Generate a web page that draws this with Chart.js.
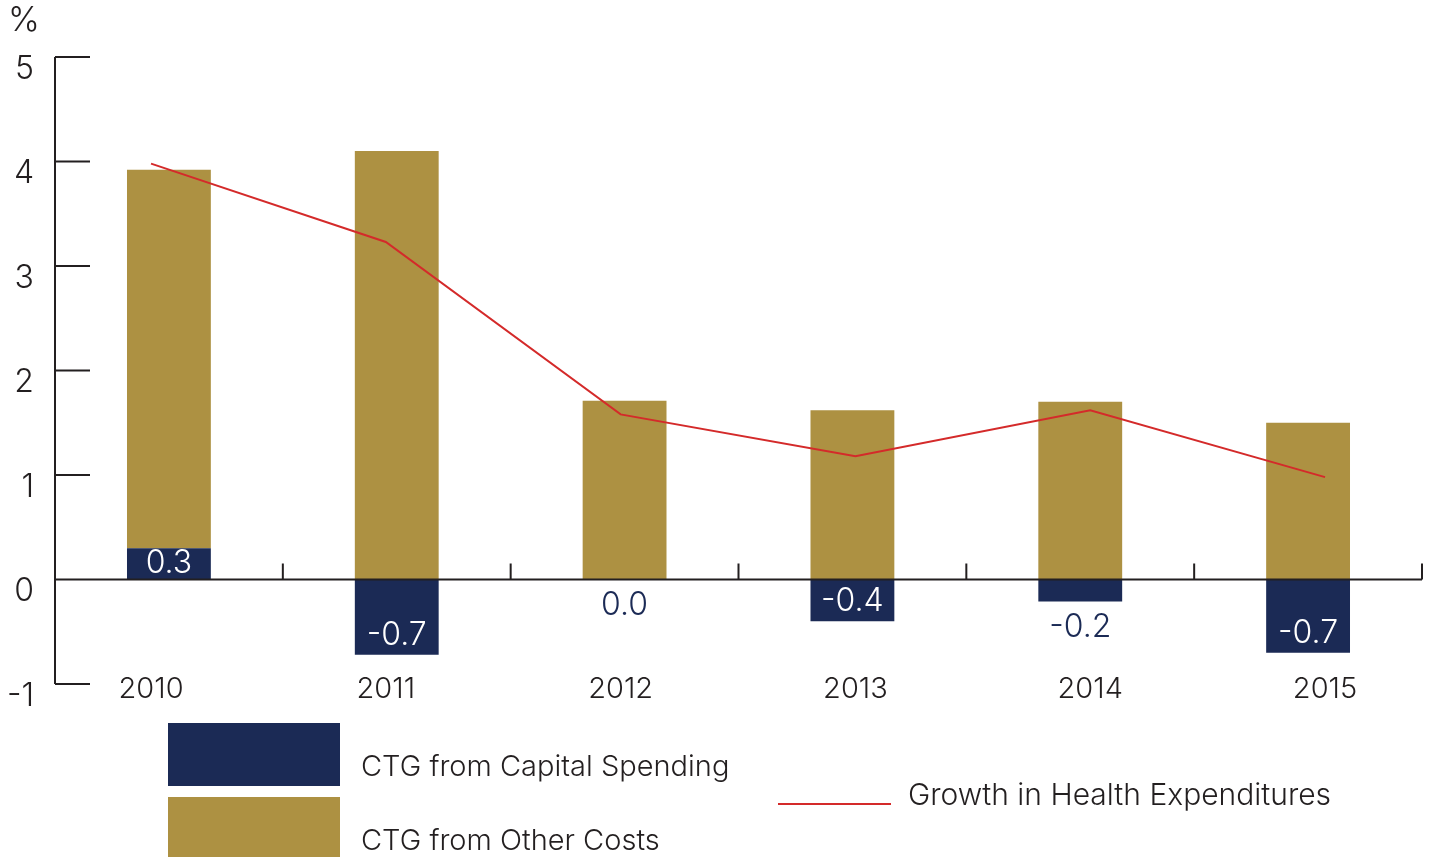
<!DOCTYPE html>
<html>
<head>
<meta charset="utf-8">
<script src="https://cdn.jsdelivr.net/npm/chart.js@4"></script>
<style>
  body { margin: 0; background: #fff; }
  canvas { display: block; }
</style>
</head>
<body>
<canvas id="myChart" width="1435" height="857"></canvas>
<script>
const years = ["2010", "2011", "2012", "2013", "2014", "2015"];
const capitalSpending = [0.3, -0.72, 0.0, -0.4, -0.21, -0.7];
const otherCosts = [3.62, 4.1, 1.71, 1.62, 1.7, 1.5];
const healthGrowth = [3.98, 3.23, 1.58, 1.18, 1.62, 0.98];
const yTicks = [-1, 0, 1, 2, 3, 4, 5];

const FONT = "Inter";
const INK = "#231f20";
const NAVY = "#1b2a55";
const GOLD = "#ad9142";
const RED = "#d42a2a";

// axis lines with inward tick marks, like the original
const axesPlugin = {
  id: "axesPlugin",
  afterDatasetsDraw(chart) {
    const { ctx, chartArea, scales } = chart;
    const x = scales.x, y = scales.y;
    ctx.save();
    ctx.strokeStyle = INK;
    ctx.lineWidth = 2;
    ctx.beginPath();
    ctx.moveTo(chartArea.left, y.getPixelForValue(5));
    ctx.lineTo(chartArea.left, y.getPixelForValue(-1));
    yTicks.forEach((t) => {
      if (t === 0) return;
      const py = y.getPixelForValue(t);
      ctx.moveTo(chartArea.left, py);
      ctx.lineTo(chartArea.left + 35, py);
    });
    const zero = y.getPixelForValue(0);
    ctx.moveTo(chartArea.left, zero);
    ctx.lineTo(chartArea.right, zero);
    years.forEach((_, i) => {
      const px = x.getPixelForValue(i + 0.5);
      ctx.moveTo(px, zero);
      ctx.lineTo(px, zero - 16);
    });
    ctx.stroke();
    ctx.restore();
  },
};

// value labels for the capital spending bars
const valuePlugin = {
  id: "valuePlugin",
  afterDatasetsDraw(chart) {
    const { ctx } = chart;
    const meta = chart.getDatasetMeta(0);
    ctx.save();
    ctx.font = "300 32px " + FONT;
    ctx.textAlign = "center";
    meta.data.forEach((bar, i) => {
      const v = capitalSpending[i];
      const txt = v.toFixed(1);
      if (v > 0.25) {
        ctx.fillStyle = "#fff";
        ctx.textBaseline = "middle";
        ctx.fillText(txt, bar.x, (bar.y + bar.base) / 2);
      } else if (v < -0.3) {
        ctx.fillStyle = "#fff";
        ctx.textBaseline = "alphabetic";
        ctx.fillText(txt, bar.x, bar.y - 10);
      } else {
        ctx.fillStyle = NAVY;
        ctx.textBaseline = "top";
        ctx.fillText(txt, bar.x, Math.max(bar.y, bar.base) + 10);
      }
    });
    ctx.restore();
  },
};

// unit label and custom legend
const legendPlugin = {
  id: "legendPlugin",
  afterDraw(chart) {
    const { ctx } = chart;
    const ds = chart.data.datasets;
    ctx.save();
    ctx.fillStyle = INK;
    ctx.font = "300 34px " + FONT;
    ctx.textBaseline = "middle";
    ctx.textAlign = "left";
    ctx.fillText("%", 8, 21);

    ctx.font = "300 29px " + FONT;
    ctx.fillStyle = ds[0].backgroundColor;
    ctx.fillRect(168, 723, 172, 63);
    ctx.fillStyle = ds[1].backgroundColor;
    ctx.fillRect(168, 797, 172, 70);
    ctx.fillStyle = INK;
    ctx.fillText(ds[0].label, 361, 767);
    ctx.fillText(ds[1].label, 361, 841);

    ctx.strokeStyle = ds[2].borderColor;
    ctx.lineWidth = 2;
    ctx.beginPath();
    ctx.moveTo(778, 804);
    ctx.lineTo(891, 804);
    ctx.stroke();
    ctx.font = "300 30px " + FONT;
    ctx.fillText(ds[2].label, 908, 796);
    ctx.restore();
  },
};

const config = {
  type: "bar",
  data: {
    labels: years,
    datasets: [
      {
        label: "CTG from Capital Spending",
        data: capitalSpending,
        backgroundColor: NAVY,
        stack: "ctg",
        grouped: false,
        order: 1,
      },
      {
        label: "CTG from Other Costs",
        data: otherCosts,
        backgroundColor: GOLD,
        stack: "ctg",
        grouped: false,
        order: 1,
      },
      {
        type: "line",
        label: "Growth in Health Expenditures",
        data: healthGrowth,
        xAxisID: "xLine",
        borderColor: RED,
        borderWidth: 2,
        pointRadius: 0,
        tension: 0,
        stack: "growth",
        order: 0,
      },
    ],
  },
  options: {
    responsive: false,
    animation: false,
    devicePixelRatio: 1,
    categoryPercentage: 0.368,
    barPercentage: 1,
    layout: { padding: { top: 57, right: 13, left: 0, bottom: 0 } },
    plugins: {
      legend: { display: false },
      tooltip: { enabled: false },
    },
    scales: {
      x: {
        display: false,
        stacked: true,
        offset: true,
      },
      xLine: {
        type: "linear",
        position: "bottom",
        min: 2009.591,
        max: 2015.413,
        offset: false,
        grid: { display: false, offset: false },
        border: { display: false },
        afterBuildTicks: (s) => { s.ticks = years.map((v) => ({ value: Number(v) })); },
        ticks: {
          color: INK,
          font: { family: FONT, size: 29, weight: 300 },
          padding: -8,
          maxRotation: 0,
          callback: (v) => String(v),
        },
        afterFit: (s) => { s.height = 185; },
      },
      y: {
        stacked: true,
        min: -0.885,
        max: 5,
        grid: { display: false, drawTicks: false },
        border: { display: false },
        afterBuildTicks: (s) => { s.ticks = yTicks.map((v) => ({ value: v })); },
        ticks: {
          color: INK,
          font: { family: FONT, size: 32, weight: 300 },
          padding: 21,
          labelOffset: 12,
        },
        afterFit: (s) => { s.width = 55; },
      },
    },
  },
  plugins: [axesPlugin, valuePlugin, legendPlugin],
};

const myChart = new Chart(document.getElementById("myChart").getContext("2d"), config);
</script>
</body>
</html>
